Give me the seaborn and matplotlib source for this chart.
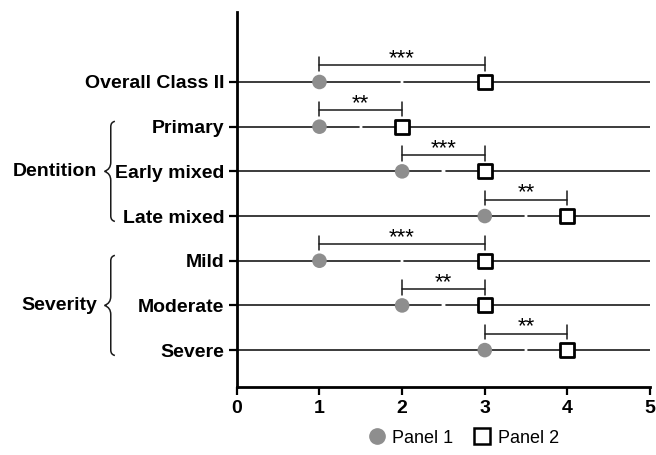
import matplotlib
matplotlib.use("Agg")
import matplotlib.pyplot as plt
import matplotlib.lines as mlines
from matplotlib.path import Path
from matplotlib.patches import PathPatch
import matplotlib.transforms as mtransforms
import seaborn as sns
import pandas as pd

rows = ["Overall Class II", "Primary", "Early mixed", "Late mixed",
        "Mild", "Moderate", "Severe"]
panel1 = [1, 1, 2, 3, 1, 2, 3]
panel2 = [3, 2, 3, 4, 3, 3, 4]
stars = ["***", "**", "***", "**", "***", "**", "**"]
groups = [("Dentition", 1, 3), ("Severity", 4, 6)]

sns.set_theme(style="ticks")
plt.rcParams["font.family"] = ["Liberation Sans", "DejaVu Sans"]
plt.rcParams["text.color"] = "black"
plt.rcParams["xtick.labelcolor"] = "black"
plt.rcParams["ytick.labelcolor"] = "black"

fig = plt.figure(figsize=(6.56, 4.55), dpi=100)
ax = fig.add_axes([0.361, 0.149, 0.630, 0.825])

pos = list(range(len(rows)))
df = pd.DataFrame({"row": pos, "p1": panel1, "p2": panel2})

# horizontal row lines with a small gap at the midpoint
for y, a, b in zip(pos, panel1, panel2):
    mid = (a + b) / 2
    ax.plot([0, mid - 0.025], [y, y], color="#1a1a1a", lw=1.2, zorder=1)
    ax.plot([mid + 0.025, 5], [y, y], color="#1a1a1a", lw=1.2, zorder=1)

sns.scatterplot(data=df, x="p1", y="row", ax=ax, marker="o", s=110,
                color="#8e8e8e", edgecolor="none", zorder=3)
sns.scatterplot(data=df, x="p2", y="row", ax=ax, marker="s", s=110,
                facecolor="white", edgecolor="black", linewidth=2, zorder=3)

# significance brackets
for y, a, b, s in zip(pos, panel1, panel2, stars):
    yb = y - 0.37
    ax.plot([a, b], [yb, yb], color="#1a1a1a", lw=1.1)
    ax.plot([a, a], [y - 0.56, y - 0.24], color="#1a1a1a", lw=1.1)
    ax.plot([b, b], [y - 0.56, y - 0.24], color="#1a1a1a", lw=1.1)
    ax.text((a + b) / 2, yb + 0.09, s, ha="center", va="bottom",
            fontsize=16)

ax.set_xlim(0, 5)
ax.set_ylim(6.83, -1.57)
ax.set_yticks(pos)
ax.set_yticklabels(rows, fontsize=14, fontweight="bold")
ax.set_xticks(range(6))
ax.set_xticklabels([str(i) for i in range(6)], fontsize=14, fontweight="bold")
ax.set_xlabel("")
ax.set_ylabel("")
for side in ["top", "right"]:
    ax.spines[side].set_visible(False)
for side in ["left", "bottom"]:
    ax.spines[side].set_linewidth(2.0)
    ax.spines[side].set_color("black")
ax.tick_params(axis="both", width=1.6, length=6, color="black", pad=3)

# curly braces for group labels
trans = mtransforms.blended_transform_factory(ax.transAxes, ax.transData)


def brace(x, y0, y1, w=0.015, hook=0.01):
    ym = (y0 + y1) / 2
    verts = [(x + hook, y0 - 0.12), (x, y0 - 0.1), (x, y0), (x, y0 + 0.2),
             (x, ym - 0.2), (x, ym - 0.05), (x - w, ym),
             (x, ym + 0.05), (x, ym + 0.2), (x, y1 - 0.2),
             (x, y1), (x, y1 + 0.1), (x + hook, y1 + 0.12)]
    codes = [Path.MOVETO, Path.CURVE3, Path.CURVE3, Path.LINETO,
             Path.LINETO, Path.CURVE3, Path.CURVE3,
             Path.CURVE3, Path.CURVE3, Path.LINETO,
             Path.LINETO, Path.CURVE3, Path.CURVE3]
    patch = PathPatch(Path(verts, codes), fill=False, lw=1.1,
                      edgecolor="#1a1a1a", transform=trans, clip_on=False)
    ax.add_patch(patch)


for name, y0, y1 in groups:
    brace(-0.305, y0, y1)
    ax.text(-0.338, (y0 + y1) / 2, name, transform=trans, ha="right",
            va="center", fontsize=14, fontweight="bold")

h1 = mlines.Line2D([], [], marker="o", color="#8e8e8e", linestyle="None",
                   markersize=11, label="Panel 1")
h2 = mlines.Line2D([], [], marker="s", markerfacecolor="white",
                   markeredgecolor="black", markeredgewidth=1.8,
                   linestyle="None", markersize=11, label="Panel 2")
fig.legend(handles=[h1, h2], loc="center", bbox_to_anchor=(0.705, 0.037),
           ncol=2, frameon=False, fontsize=13, handletextpad=0.25,
           columnspacing=1.0, handlelength=1.2)

fig.savefig("out.png", dpi=100)
